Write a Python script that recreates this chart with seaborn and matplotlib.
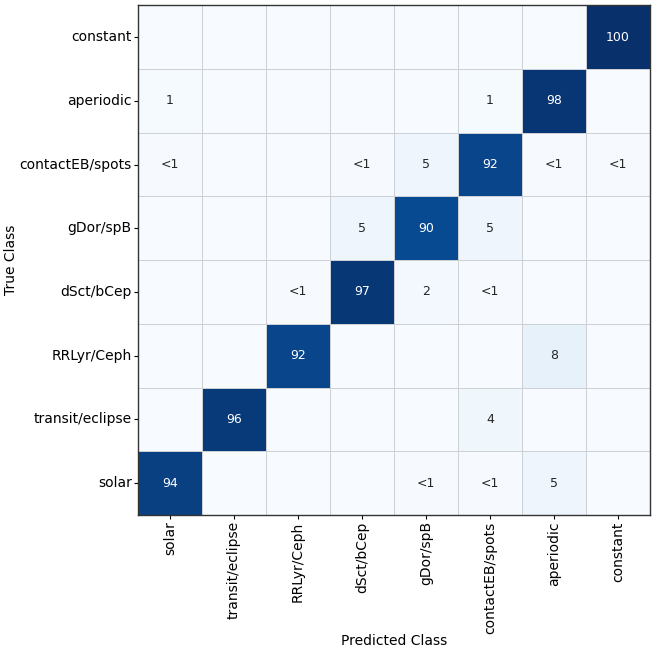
import numpy as np
import pandas as pd
import seaborn as sns
import matplotlib.pyplot as plt

# class order along the predicted axis (left to right)
classes = ['solar', 'transit/eclipse', 'RRLyr/Ceph', 'dSct/bCep',
           'gDor/spB', 'contactEB/spots', 'aperiodic', 'constant']
# rows of the matrix, top to bottom
true_order = classes[::-1]

# percentages per true class, columns follow `classes`; 0.5 stands for "<1"
pct_constant = [0, 0, 0, 0, 0, 0, 0, 100]
pct_aperiodic = [1, 0, 0, 0, 0, 1, 98, 0]
pct_contact = [0.5, 0, 0, 0.5, 5, 92, 0.5, 0.5]
pct_gdor = [0, 0, 0, 5, 90, 5, 0, 0]
pct_dsct = [0, 0, 0.5, 97, 2, 0.5, 0, 0]
pct_rrlyr = [0, 0, 92, 0, 0, 0, 8, 0]
pct_transit = [0, 96, 0, 0, 0, 4, 0, 0]
pct_solar = [94, 0, 0, 0, 0.5, 0.5, 5, 0]

cm = pd.DataFrame([pct_constant, pct_aperiodic, pct_contact, pct_gdor,
                   pct_dsct, pct_rrlyr, pct_transit, pct_solar],
                  index=true_order, columns=classes)


def label(v):
    if v == 0:
        return ''
    if v < 1:
        return '<1'
    return '%d' % v


labels = cm.apply(lambda col: col.map(label))

fig, ax = plt.subplots(figsize=(6.54, 6.54), dpi=100)
fig.subplots_adjust(left=0.211, right=0.994, top=0.992, bottom=0.2125)

sns.heatmap(cm, ax=ax, cmap='Blues', vmin=0, vmax=100, cbar=False,
            annot=labels, fmt='', annot_kws={'fontsize': 9},
            linewidths=0.6, linecolor='#cdd1d6')

for side in ax.spines.values():
    side.set_visible(True)
    side.set_color('#333333')
    side.set_linewidth(1.0)

ax.tick_params(axis='both', labelsize=10, length=3, pad=1.5)
plt.setp(ax.get_xticklabels(), rotation=90)
plt.setp(ax.get_yticklabels(), rotation=0)
ax.set_xlabel('Predicted Class', fontsize=10, labelpad=0)
ax.set_ylabel('True Class', fontsize=10, labelpad=1)

fig.savefig('out.png')
